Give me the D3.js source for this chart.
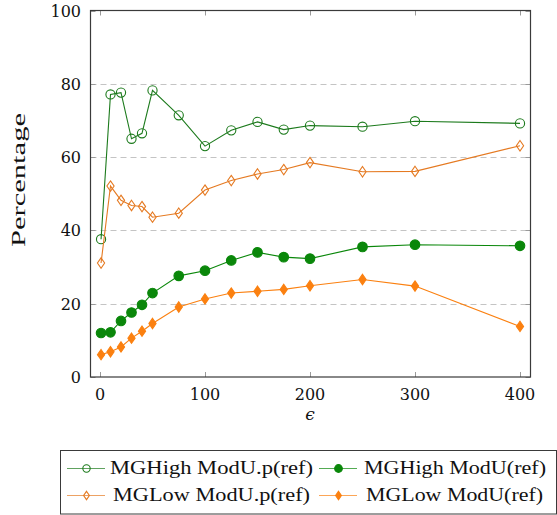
<!DOCTYPE html>
<html>
<head>
<meta charset="utf-8">
<script src="https://cdn.jsdelivr.net/npm/d3@7"></script>
<style>
  html, body { margin: 0; padding: 0; background: #fff; }
  svg { display: block; }
</style>
</head>
<body>
<svg id="chart" width="557" height="515"></svg>
<script>
// epsilon values on the x axis
const epsilon = [1, 10, 20, 30, 40, 50, 75, 100, 125, 150, 175, 200, 250, 300, 400];

// percentage series
const mgHighModUp = [37.6, 77.1, 77.6, 65.0, 66.5, 78.2, 71.4, 63.0, 67.3, 69.6, 67.5, 68.6, 68.3, 69.8, 69.2];
const mgHighModU  = [12.0, 12.2, 15.3, 17.6, 19.7, 22.9, 27.6, 29.0, 31.8, 34.0, 32.7, 32.3, 35.5, 36.1, 35.8];
const mgLowModUp  = [31.1, 52.1, 48.2, 46.8, 46.5, 43.6, 44.7, 51.0, 53.6, 55.4, 56.6, 58.5, 56.0, 56.1, 63.1];
const mgLowModU   = [6.1, 6.9, 8.2, 10.6, 12.5, 14.6, 19.1, 21.3, 22.9, 23.4, 23.9, 24.9, 26.6, 24.8, 13.8];

const xTicks = [0, 100, 200, 300, 400];
const yTicks = [0, 20, 40, 60, 80, 100];
const gridTicks = [20, 40, 60, 80];

const seriesNames = ["MGHigh ModU.p(ref)", "MGHigh ModU(ref)", "MGLow ModU.p(ref)", "MGLow ModU(ref)"];

const series = [
  { name: seriesNames[0], values: mgHighModUp, color: "#1c7a1c", mark: "circle", filled: false },
  { name: seriesNames[1], values: mgHighModU,  color: "#0a870a", mark: "circle", filled: true },
  { name: seriesNames[2], values: mgLowModUp,  color: "#e57a22", mark: "diamond", filled: false },
  { name: seriesNames[3], values: mgLowModU,   color: "#fb8010", mark: "diamond", filled: true }
];

const serifFont = "'Liberation Serif', 'Times New Roman', serif";
const tickFont = "'DejaVu Serif', serif";

const svg = d3.select("#chart");

// plot frame
const frame = { left: 90.5, right: 530.5, top: 10.5, bottom: 377 };

const x = d3.scaleLinear().domain([0, 400]).range([100, 520]);
const y = d3.scaleLinear().domain([0, 100]).range([377, 10.5]);

// dashed horizontal grid
svg.append("g").selectAll("line").data(gridTicks).join("line")
  .attr("x1", frame.left).attr("x2", frame.right)
  .attr("y1", d => Math.round(y(d)) + 0.5).attr("y2", d => Math.round(y(d)) + 0.5)
  .attr("stroke", "#c4c4c4").attr("stroke-width", 1)
  .attr("stroke-dasharray", "6,4");

// inward ticks on all four sides
const tickLen = 5;
const tickColor = "#9a9a9a";
const ticks = svg.append("g").attr("stroke", tickColor).attr("stroke-width", 1);
xTicks.forEach(t => {
  const px = Math.round(x(t)) + 0.5;
  ticks.append("line").attr("x1", px).attr("x2", px).attr("y1", frame.bottom).attr("y2", frame.bottom - tickLen);
  ticks.append("line").attr("x1", px).attr("x2", px).attr("y1", frame.top).attr("y2", frame.top + tickLen);
});
yTicks.forEach(t => {
  const py = Math.round(y(t)) + 0.5;
  ticks.append("line").attr("x1", frame.left).attr("x2", frame.left + tickLen).attr("y1", py).attr("y2", py);
  ticks.append("line").attr("x1", frame.right).attr("x2", frame.right - tickLen).attr("y1", py).attr("y2", py);
});

// axis frame
svg.append("rect")
  .attr("x", frame.left).attr("y", frame.top)
  .attr("width", frame.right - frame.left).attr("height", frame.bottom - frame.top)
  .attr("fill", "none").attr("stroke", "#3a3a3a").attr("stroke-width", 1.2);

// tick labels
svg.append("g").selectAll("text").data(xTicks).join("text")
  .attr("x", d => x(d)).attr("y", 400)
  .attr("text-anchor", "middle")
  .attr("font-family", tickFont).attr("font-size", 16).attr("fill", "#111")
  .text(d => d);
svg.append("g").selectAll("text").data(yTicks).join("text")
  .attr("x", 81).attr("y", d => y(d) + 6)
  .attr("text-anchor", "end")
  .attr("font-family", tickFont).attr("font-size", 16).attr("fill", "#111")
  .text(d => d);

// axis titles
svg.append("text")
  .attr("transform", "translate(24.5,180) rotate(-90)")
  .attr("text-anchor", "middle")
  .attr("font-family", serifFont).attr("font-size", 19.5)
  .attr("textLength", 134).attr("lengthAdjust", "spacingAndGlyphs")
  .attr("fill", "#111")
  .text("Percentage");
svg.append("text")
  .attr("x", 310).attr("y", 420)
  .attr("text-anchor", "middle")
  .attr("font-family", "'DejaVu Serif', serif").attr("font-style", "italic").attr("font-size", 17)
  .attr("fill", "#111")
  .text("ϵ");

// marker drawing
function drawMark(g, s, cx, cy, k) {
  if (s.mark === "circle") {
    g.append("circle")
      .attr("cx", cx).attr("cy", cy).attr("r", (s.filled ? 4.8 : 4.6) * k)
      .attr("fill", s.filled ? s.color : "none")
      .attr("stroke", s.color).attr("stroke-width", 1.1);
  } else {
    const w = 3.6 * k, h = 5.2 * k;
    g.append("path")
      .attr("d", `M${cx},${cy - h}L${cx + w},${cy}L${cx},${cy + h}L${cx - w},${cy}Z`)
      .attr("fill", s.filled ? s.color : "none")
      .attr("stroke", s.color).attr("stroke-width", 1.1);
  }
}

const line = d3.line().x(d => x(d[0])).y(d => y(d[1]));

series.forEach(s => {
  const pts = epsilon.map((e, i) => [e, s.values[i]]);
  const g = svg.append("g");
  g.append("path").datum(pts)
    .attr("d", line)
    .attr("fill", "none").attr("stroke", s.color).attr("stroke-width", 1.1);
  pts.forEach(p => drawMark(g, s, x(p[0]), y(p[1]), 1));
});

// legend
const legend = svg.append("g");
legend.append("rect")
  .attr("x", 60.5).attr("y", 450.5).attr("width", 496).attr("height", 63.5)
  .attr("fill", "#fff").attr("stroke", "#3a3a3a").attr("stroke-width", 1);

const legendPos = [
  { lx: 67, ly: 468.5, tx: 110, tw: 203 },
  { lx: 319, ly: 468.5, tx: 364, tw: 182 },
  { lx: 67, ly: 495.5, tx: 113, tw: 197 },
  { lx: 319, ly: 495.5, tx: 366, tw: 177 }
];
series.forEach((s, i) => {
  const p = legendPos[i];
  const g = legend.append("g");
  g.append("line")
    .attr("x1", p.lx).attr("x2", p.lx + 38).attr("y1", p.ly).attr("y2", p.ly)
    .attr("stroke", s.color).attr("stroke-width", 1.1).attr("stroke-opacity", 0.7);
  drawMark(g, s, p.lx + 19.5, p.ly, 0.8);
  g.append("text")
    .attr("x", p.tx).attr("y", p.ly + 5.5)
    .attr("font-family", serifFont).attr("font-size", 19)
    .attr("textLength", p.tw).attr("lengthAdjust", "spacingAndGlyphs")
    .attr("fill", "#111")
    .text(s.name);
});
</script>
</body>
</html>
